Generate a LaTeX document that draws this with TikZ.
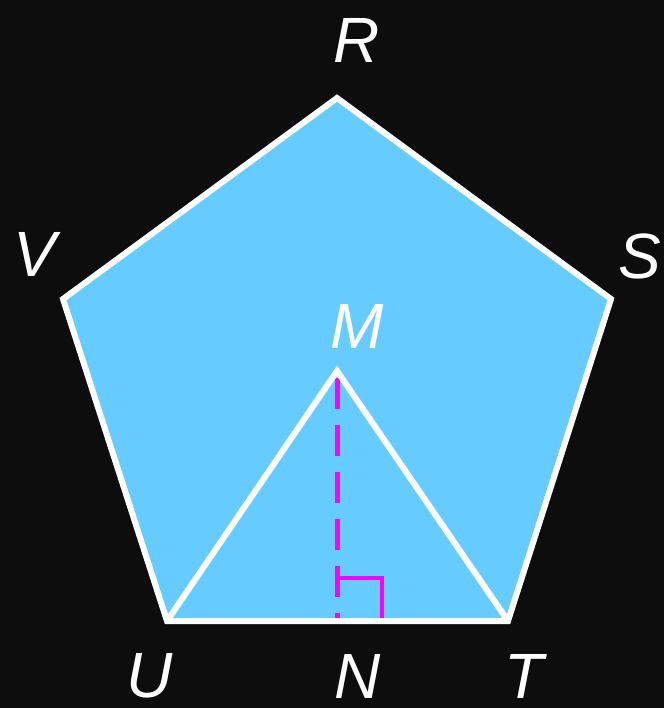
\documentclass[tikz,border=0pt]{standalone}
\usepackage{fontspec}
\setmainfont{Liberation Sans}
\usetikzlibrary{positioning}
\definecolor{bgdark}{HTML}{0D0D0D}
\definecolor{penfill}{HTML}{66CCFF}
\definecolor{magline}{HTML}{FF00FF}
\tikzset{
  side/.style   ={draw=white, line width=6pt, line join=miter},
  alt/.style    ={draw=magline, line width=5pt, dash pattern=on 31pt off 16pt},
  rmark/.style  ={draw=magline, line width=4pt},
  lbl/.style    ={text=white, inner sep=0pt, font=\fontsize{64}{64}\selectfont\itshape},
}

\begin{document}
\begin{tikzpicture}[x=1pt,y=-1pt]
  \fill[bgdark] (0,0) rectangle (664,708);
  \useasboundingbox (0,0) rectangle (664,708);

  % vertices
  \coordinate (R) at (337,98);
  \coordinate (S) at (611,299);
  \coordinate (T) at (508,621);
  \coordinate (U) at (167,621);
  \coordinate (V) at (63,299);
  \coordinate (M) at (337,371);
  \coordinate (N) at (337,621);
  \coordinate (Q) at (382,578);

  \fill[penfill] (R) -- (S) -- (T) -- (U) -- (V) -- cycle;

  % altitude and right angle
  \draw[alt, shorten <=7pt] (M) -- (N);
  \draw[rmark] (M|-Q) -- (Q) -- (Q|-N);

  \draw[side] (R) -- (S) -- (T) -- (U) -- (V) -- cycle;
  \draw[side] (U) -- (M) -- (T);

  % labels
  \node[lbl] (lR) at (357,40) {R};
  \node[lbl] (lS) at (640,256) {S};
  \node[lbl] (lV) at (35,254) {V};
  \node[lbl] (lM) at (357,326) {M};
  \node[lbl] (lU) at (150,676) {U};
  \node[lbl] (lN) at (358,676) {N};
  \node[lbl] (lT) at (524,676) {T};
\end{tikzpicture}
\end{document}
